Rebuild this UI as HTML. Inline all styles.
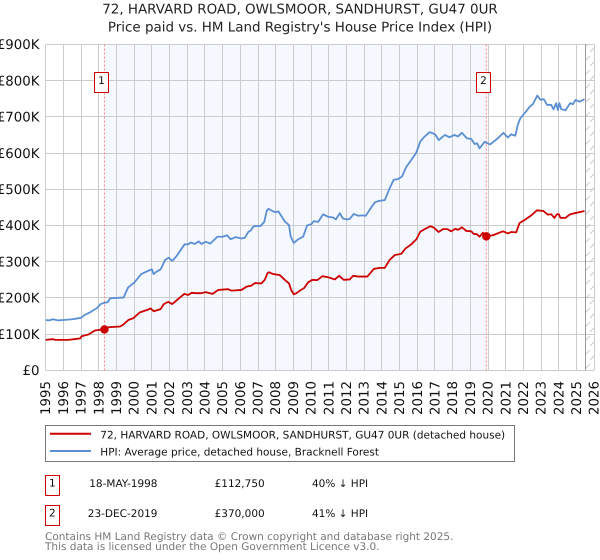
<!DOCTYPE html>
<html lang="en">
<head>
<meta charset="utf-8">
<title>72, Harvard Road price chart</title>
<style>
html,body{margin:0;padding:0;background:#fff;width:600px;height:560px;overflow:hidden}
svg{display:block;font-family:"DejaVu Sans",sans-serif;text-rendering:geometricPrecision}
</style>
</head>
<body>
<svg id="chart" width="600" height="560" viewBox="0 0 600 560" xmlns="http://www.w3.org/2000/svg">
  <defs>
    <pattern id="hatch" width="10" height="14" patternUnits="userSpaceOnUse">
      <line x1="-1" y1="11" x2="10" y2="0" stroke="#ccc" stroke-width="1"/>
      <line x1="-1" y1="25" x2="10" y2="14" stroke="#ccc" stroke-width="1"/>
    </pattern>
  </defs>
  <text x="300" y="13.5" text-anchor="middle" font-size="13.45" fill="#222">72, HARVARD ROAD, OWLSMOOR, SANDHURST, GU47 0UR</text>
  <text x="300" y="31.5" text-anchor="middle" font-size="13.45" fill="#222">Price paid vs. HM Land Registry's House Price Index (HPI)</text>
  <g id="plot"></g>

  <g>
    <rect x="45.5" y="425.5" width="469" height="36" fill="#fff" stroke="#777"/>
    <line x1="50" y1="433.7" x2="91" y2="433.7" stroke="#cc0000" stroke-width="2"/>
    <text x="100.3" y="438.5" font-size="10.5" fill="#111">72, HARVARD ROAD, OWLSMOOR, SANDHURST, GU47 0UR (detached house)</text>
    <line x1="50" y1="451" x2="91" y2="451" stroke="#5b8fd4" stroke-width="2"/>
    <text x="100.3" y="455.5" font-size="10.5" fill="#111">HPI: Average price, detached house, Bracknell Forest</text>
  </g>

  <g>
    <rect x="45.5" y="475.5" width="14" height="20" fill="#fff" stroke="#cc0000"/>
    <text x="52.3" y="486.7" text-anchor="middle" font-size="10.5" fill="#111">1</text>
    <text x="157.5" y="487" text-anchor="end" font-size="10.5" fill="#111">18-MAY-1998</text>
    <text x="264.7" y="487" text-anchor="end" font-size="10.5" fill="#111">£112,750</text>
    <text x="312" y="487" font-size="10.5" fill="#111">40% ↓ HPI</text>
  </g>
  <g>
    <rect x="45.5" y="505.5" width="14" height="20" fill="#fff" stroke="#cc0000"/>
    <text x="52.3" y="516.7" text-anchor="middle" font-size="10.5" fill="#111">2</text>
    <text x="157.5" y="517" text-anchor="end" font-size="10.5" fill="#111">23-DEC-2019</text>
    <text x="264.7" y="517" text-anchor="end" font-size="10.5" fill="#111">£370,000</text>
    <text x="312" y="517" font-size="10.5" fill="#111">41% ↓ HPI</text>
  </g>
  <text x="45" y="540" font-size="10.5" fill="#777">Contains HM Land Registry data © Crown copyright and database right 2025.</text>
  <text x="45" y="550" font-size="10.5" fill="#777">This data is licensed under the Open Government Licence v3.0.</text>
</svg>
<script>
const xTickYears = [1995,1996,1997,1998,1999,2000,2001,2002,2003,2004,2005,2006,2007,2008,2009,2010,2011,2012,2013,2014,2015,2016,2017,2018,2019,2020,2021,2022,2023,2024,2025,2026];
const yTickValues = [0,100,200,300,400,500,600,700,800,900];
const yTickLabels = ['£0','£100K','£200K','£300K','£400K','£500K','£600K','£700K','£800K','£900K'];
const hpiYears = [1995,1995.2,1995.4,1995.7,1996,1996.5,1997,1997.2,1997.5,1997.9,1998.1,1998.35,1998.5,1998.65,1999.4,1999.66,2000,2000.4,2000.8,2001,2001.1,2001.25,2001.5,2001.75,2001.95,2002.15,2002.4,2002.85,2003.05,2003.2,2003.42,2003.65,2003.8,2004.05,2004.3,2004.7,2005,2005.25,2005.45,2005.75,2006.05,2006.25,2006.45,2006.6,2006.75,2007.15,2007.35,2007.5,2007.6,2007.85,2008,2008.15,2008.5,2008.75,2008.85,2009.02,2009.27,2009.55,2009.77,2010.02,2010.15,2010.4,2010.68,2010.96,2011.24,2011.4,2011.62,2011.8,2012,2012.18,2012.41,2012.65,2012.85,2013.09,2013.3,2013.6,2013.84,2014.16,2014.44,2014.66,2014.9,2015.13,2015.38,2015.66,2015.94,2016.17,2016.4,2016.7,2017,2017.22,2017.55,2017.82,2018.1,2018.3,2018.52,2018.8,2019.05,2019.24,2019.38,2019.52,2019.8,2020.12,2020.55,2020.87,2021.12,2021.3,2021.54,2021.68,2021.82,2022.06,2022.35,2022.53,2022.78,2022.97,2023.15,2023.34,2023.57,2023.7,2023.85,2023.94,2024.03,2024.13,2024.37,2024.64,2024.8,2024.94,2025.17,2025.45];
const hpiValues = [139,138,141,138,139,141,145,153,160,172,183,187,188,199,201,229,242,266,275,279,266,272,279,305,311,302,316,348,348,353,349,356,349,355,350,369,369,373,362,368,364,366,382,387,398,399,410,442,446,439,437,439,412,401,369,352,362,369,400,404,412,410,431,424,422,417,434,419,417,418,432,427,428,427,443,464,468,470,503,526,528,535,562,581,601,632,645,658,652,636,650,644,650,646,656,641,639,625,627,613,631,624,641,656,643,652,648,678,696,710,728,735,759,747,749,733,733,721,738,719,738,722,718,738,735,747,742,749];
const priceYears = [1995,1995.4,1995.53,1996.28,1996.94,1997.03,1997.41,1997.78,1998.07,1998.32,1998.54,1999.2,1999.38,1999.67,1999.95,2000.32,2000.8,2000.93,2001.11,2001.49,2001.68,2001.92,2002.15,2002.49,2002.83,2003.05,2003.24,2003.52,2003.8,2004.03,2004.43,2004.75,2005.31,2005.5,2006.06,2006.35,2006.63,2006.82,2007.19,2007.38,2007.53,2007.62,2007.85,2008.23,2008.51,2008.75,2008.89,2009.02,2009.17,2009.36,2009.6,2009.83,2010.07,2010.34,2010.64,2010.96,2011.34,2011.58,2011.84,2012.18,2012.37,2012.65,2013.18,2013.54,2013.88,2014.16,2014.44,2014.72,2015.1,2015.32,2015.66,2015.95,2016.17,2016.42,2016.74,2016.94,2017.2,2017.45,2017.7,2017.92,2018.15,2018.3,2018.52,2018.77,2019.05,2019.18,2019.37,2019.52,2019.71,2019.9,2020.27,2020.84,2021.12,2021.3,2021.59,2021.78,2022.06,2022.44,2022.76,2023.13,2023.38,2023.57,2023.75,2023.89,2024,2024.09,2024.37,2024.6,2024.82,2024.98,2025.45];
const priceValues = [84,86,84,84,88,94,99,110,112,113,119,121,126,139,144,160,168,171,163,169,183,189,183,197,211,208,214,213,213,216,211,222,224,220,222,231,234,241,240,250,268,271,266,263,250,240,220,210,213,220,227,243,250,249,260,257,251,261,250,251,261,259,259,280,283,283,305,318,322,336,348,362,383,390,398,394,382,390,390,384,391,388,395,385,384,377,376,369,380,370,373,384,378,382,381,407,415,428,442,440,430,431,421,431,431,421,421,430,433,435,440];
const saleYears = [1998.32,2019.9];
const saleValues = [112.75,370];
const saleLabels = ['1','2'];
const forecastStartYear = 2025.5;

const NS = 'http://www.w3.org/2000/svg';
const plot = document.getElementById('plot');
const xPos = yr => 45.7 + (yr - 1995) * 17.695;
const yPos = k => 370.3 - k * 0.362;
const snap = v => Math.floor(v) + 0.5;
function make(tag, attrs, parent) {
  const el = document.createElementNS(NS, tag);
  for (const k in attrs) el.setAttribute(k, attrs[k]);
  (parent || plot).appendChild(el);
  return el;
}
const top0 = yPos(900), bottom0 = yPos(0);

const band = make('rect', {x: xPos(saleYears[0]), y: top0, width: xPos(saleYears[1]) - xPos(saleYears[0]), height: bottom0 - top0, fill: '#f5f8ff'});



const hatch = make('rect', {x: xPos(forecastStartYear), y: top0, width: xPos(2026) - xPos(forecastStartYear), height: bottom0 - top0, fill: 'url(#hatch)'});



xTickYears.forEach(yr => {
  const g = make('line', {x1: snap(xPos(yr)), x2: snap(xPos(yr)), y1: top0, y2: bottom0, stroke: '#ccc', 'stroke-width': 1});
  
  
  const t = make('text', {transform: 'translate(' + (xPos(yr) + 4.5) + ',415) rotate(-90)', 'font-size': 13.33, fill: '#111'});
  t.textContent = yr;
  
  
});
yTickValues.forEach((v, i) => {
  const g = make('line', {x1: 45.7, x2: xPos(2026), y1: snap(yPos(v)), y2: snap(yPos(v)), stroke: '#ccc', 'stroke-width': 1});
  
  
  const t = make('text', {x: 39.5, y: yPos(v) + 4.7, 'text-anchor': 'end', 'font-size': 13.33, fill: '#111'});
  t.textContent = yTickLabels[i];
  
  
});

const endLine = make('line', {x1: snap(xPos(forecastStartYear)), x2: snap(xPos(forecastStartYear)), y1: top0, y2: bottom0, stroke: '#999', 'stroke-width': 1});



saleYears.forEach(yr => {
  const l = make('line', {x1: xPos(yr), x2: xPos(yr), y1: top0, y2: bottom0, stroke: '#ff7f7f', 'stroke-width': 1, 'stroke-dasharray': '2 2'});
  
  
});

const pathFrom = (xs, ys) => xs.map((yr, i) => (i ? 'L' : 'M') + xPos(yr).toFixed(2) + ' ' + yPos(ys[i]).toFixed(2)).join('');
const hpiLine = make('path', {d: pathFrom(hpiYears, hpiValues), fill: 'none', stroke: '#5b8fd4', 'stroke-width': 1.8, 'stroke-linejoin': 'round'});


const priceLine = make('path', {d: pathFrom(priceYears, priceValues), fill: 'none', stroke: '#cc0000', 'stroke-width': 1.8, 'stroke-linejoin': 'round'});



saleYears.forEach((yr, i) => {
  const c = make('circle', {cx: xPos(yr), cy: yPos(saleValues[i]), r: 4.2, fill: '#cc0000'});
  
  
  const r = make('rect', {x: snap(xPos(yr) - 10), y: 72.5, width: 14, height: 20, fill: '#fff', stroke: '#cc0000', 'stroke-width': 1});
  
  
  const t = make('text', {x: snap(xPos(yr) - 10) + 7, y: 84, 'text-anchor': 'middle', 'font-size': 10.5, fill: '#111'});
  t.textContent = saleLabels[i];
  
  
});
</script>
</body>
</html>
